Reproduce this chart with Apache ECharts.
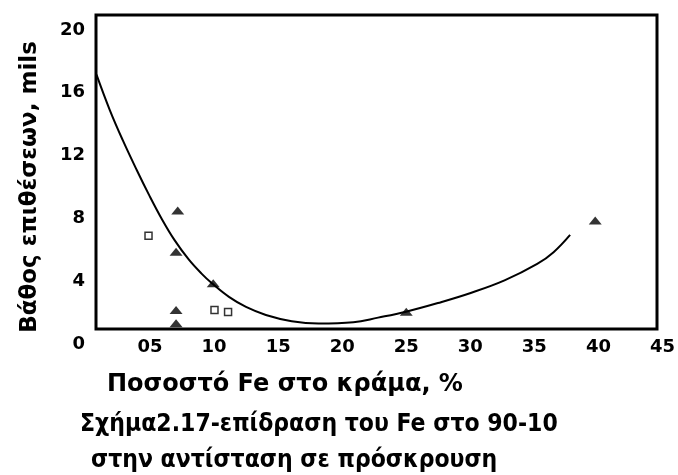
<!DOCTYPE html>
<html><head><meta charset="utf-8">
<script src="https://cdn.jsdelivr.net/npm/echarts@6/dist/echarts.min.js"></script>
<style>html,body{margin:0;padding:0;background:#fff}#c{width:678px;height:475px}</style>
</head><body><div id="c"></div>
<script>
// ---- data ----
const xTicks = [0, 5, 10, 15, 20, 25, 30, 35, 40, 45];
const yTicks = [0, 4, 8, 12, 16, 20];
const triX = [7.16, 7.03, 9.93, 7.03, 7.03, 25.0, 39.75];
const triY = [8.5, 5.87, 3.87, 2.17, 1.32, 2.06, 7.86];
const sqX = [4.88, 10.03, 11.09];
const sqY = [6.9, 2.17, 2.04];
const curveX = [0.82, 1.85, 2.86, 3.95, 4.95, 5.96, 6.9, 8.0, 9.0, 9.85, 11.16, 12.49, 14.04, 16.06, 18.15, 20.87, 22.8, 24.98, 27.47, 30.03, 32.67, 35.22, 36.5, 37.79];
const curveY = [17.16, 14.92, 13.0, 11.1, 9.45, 7.9, 6.63, 5.4, 4.5, 3.85, 3.0, 2.36, 1.85, 1.45, 1.3, 1.38, 1.68, 2.06, 2.61, 3.25, 4.05, 5.1, 5.85, 6.95];
const xTitle = 'Ποσοστό Fe στο κράμα, %';
const yTitle = 'Βάθος επιθέσεων, mils';
const caption1 = 'Σχήμα2.17-επίδραση του Fe στο 90-10';
const caption2 = 'στην αντίσταση σε πρόσκρουση';

const zip = (a, b) => a.map((v, i) => [v, b[i]]);
const chart = echarts.init(document.getElementById('c'), null, {renderer: 'canvas'});
const boldFont = 'DejaVu Sans, Verdana, sans-serif';
const lblFont = {fontFamily: boldFont, fontWeight: 'bold', fontSize: 18, color: '#000'};
const capStyle = {fontFamily: 'Liberation Sans Narrow, DejaVu Sans Condensed, sans-serif', fontWeight: 'bold', fontSize: 24.5, color: '#000'};

chart.setOption({
  animation: false,
  backgroundColor: '#fff',
  title: [
    {text: xTitle, left: 102, top: 368, padding: 5, textStyle: {fontFamily: boldFont, fontWeight: 'bold', fontSize: 24, color: '#000'}},
    {text: caption1, left: 75, top: 407, padding: 5, textStyle: capStyle},
    {text: caption2, left: 86, top: 443, padding: 5, textStyle: capStyle}
  ],
  grid: [
    {left: 96, top: 15, width: 561, height: 314, show: true, borderColor: '#000', borderWidth: 3, backgroundColor: 'transparent'},
    {left: 86, right: 12, top: 30, bottom: 131, show: false}
  ],
  xAxis: [
    {gridIndex: 0, type: 'value', min: 0, max: 1, show: false},
    {gridIndex: 1, type: 'value', min: xTicks[0], max: xTicks[xTicks.length - 1], interval: 5,
     axisLine: {show: false}, axisTick: {show: false}, splitLine: {show: false},
     axisLabel: Object.assign({margin: -6, formatter: v => v === 0 ? '' : (v < 10 ? '0' + v : String(v))}, lblFont)}
  ],
  yAxis: [
    {gridIndex: 0, type: 'value', min: 0, max: 1, show: false},
    {gridIndex: 1, type: 'value', min: yTicks[0], max: yTicks[yTicks.length - 1], interval: 4,
     axisLine: {show: false}, axisTick: {show: false}, splitLine: {show: false},
     axisLabel: Object.assign({margin: 1}, lblFont),
     name: yTitle, nameLocation: 'middle', nameRotate: 90, nameGap: 44,
     nameTextStyle: {fontFamily: boldFont, fontWeight: 'bold', fontSize: 23, color: '#000'}}
  ],
  series: [
    {type: 'line', xAxisIndex: 1, yAxisIndex: 1, data: zip(curveX, curveY), smooth: 0.4, showSymbol: false,
     lineStyle: {color: '#000', width: 2}, z: 2},
    {type: 'scatter', xAxisIndex: 1, yAxisIndex: 1, data: zip(triX, triY), symbol: 'triangle', symbolSize: [13, 8],
     itemStyle: {color: '#000'}, z: 3},
    {type: 'scatter', xAxisIndex: 1, yAxisIndex: 1, data: zip(sqX, sqY), symbol: 'rect', symbolSize: 7,
     itemStyle: {color: '#fff', borderColor: '#000', borderWidth: 1.5}, z: 3}
  ]
});
</script></body></html>
